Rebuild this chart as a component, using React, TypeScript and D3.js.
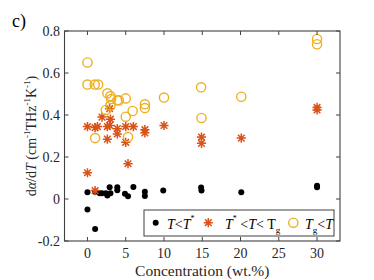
import React from "react";
import * as d3 from "d3";

const xTicks = [0, 5, 10, 15, 20, 25, 30];
const yTicks = [-0.2, 0, 0.2, 0.4, 0.6, 0.8];
const yTickLabels = ["-0.2", "0", "0.2", "0.4", "0.6", "0.8"];

const dotsX = [0, 0, 1.0, 1.0, 1.6, 1.9, 2.4, 2.6, 2.9, 3.0, 3.9, 3.9, 4.9, 5.3, 6.0, 7.5, 7.5, 9.9, 14.85, 14.9, 20.1, 30, 30];
const dotsY = [0.032, -0.05, -0.143, 0.035, 0.027, 0.027, 0.027, 0.017, 0.056, 0.027, 0.056, 0.042, 0.025, 0.013, 0.057, 0.035, 0.014, 0.04, 0.055, 0.04, 0.032, 0.063, 0.056];

const starsX = [0, 0, 1.0, 1.0, 1.3, 1.9, 2.6, 2.6, 2.9, 3.0, 2.9, 3.9, 3.9, 5.0, 5.0, 5.3, 6.0, 7.5, 7.5, 10, 14.9, 14.9, 20.1, 30, 30];
const starsY = [0.345, 0.125, 0.04, 0.34, 0.345, 0.39, 0.345, 0.285, 0.43, 0.38, 0.35, 0.335, 0.31, 0.345, 0.27, 0.168, 0.345, 0.33, 0.315, 0.35, 0.295, 0.265, 0.29, 0.436, 0.424];

const circlesX = [0, 0, 0.95, 1.4, 2.6, 3.0, 3.1, 3.9, 4.1, 5.0, 2.4, 3.0, 5.9, 5.0, 7.5, 7.5, 10, 14.85, 14.9, 20.1, 30, 30, 1.0, 5.3];
const circlesY = [0.65, 0.545, 0.545, 0.545, 0.503, 0.49, 0.476, 0.47, 0.47, 0.479, 0.424, 0.445, 0.419, 0.392, 0.451, 0.433, 0.483, 0.532, 0.386, 0.487, 0.762, 0.737, 0.29, 0.295];

const ORANGE = "#D95319";
const YELLOW = "#EDB120";
const AX = "#404040";
const FONT = "Liberation Serif, DejaVu Serif, serif";

function starPath(cx: number, cy: number, r: number) {
  const d = r * 0.72;
  return `M${cx - r},${cy}L${cx + r},${cy}M${cx},${cy - r}L${cx},${cy + r}M${cx - d},${cy - d}L${cx + d},${cy + d}M${cx - d},${cy + d}L${cx + d},${cy - d}`;
}

export default function App() {
  const x = d3.scaleLinear().domain([-3, 33]).range([64.5, 340]);
  const y = d3.scaleLinear().domain([-0.2, 0.8]).range([241, 31]);
  const [x0, x1] = x.range();
  const [yb, yt] = y.range();
  const tl = 4;
  const tf = { fontFamily: FONT };

  return (
    <svg width={374} height={280} style={{ position: "absolute", left: 0, top: 0, background: "#fff", fontFamily: FONT }}>
      <text x={12} y={27} fontSize={18} fill="#000" style={tf}>c)</text>
      {dotsX.map((v, i) => (
        <circle key={"d" + i} cx={x(v)} cy={y(dotsY[i])} r={3} fill="#000" />
      ))}
      {starsX.map((v, i) => (
        <path key={"s" + i} d={starPath(x(v), y(starsY[i]), 4.6)} stroke={ORANGE} strokeWidth={1.5} fill="none" />
      ))}
      {circlesX.map((v, i) => (
        <circle key={"c" + i} cx={x(v)} cy={y(circlesY[i])} r={4.6} fill="none" stroke={YELLOW} strokeWidth={1.4} />
      ))}
      <rect x={x0} y={yt} width={x1 - x0} height={yb - yt} fill="none" stroke={AX} strokeWidth={1.1} />
      {xTicks.map((t) => (
        <g key={"xt" + t}>
          <line x1={x(t)} x2={x(t)} y1={yb} y2={yb - tl} stroke={AX} />
          <line x1={x(t)} x2={x(t)} y1={yt} y2={yt + tl} stroke={AX} />
          <text x={x(t)} y={258} textAnchor="middle" fontSize={14} fill="#262626" style={tf}>{t}</text>
        </g>
      ))}
      {yTicks.map((t, i) => (
        <g key={"yt" + t}>
          <line x1={x0} x2={x0 + tl} y1={y(t)} y2={y(t)} stroke={AX} />
          <line x1={x1} x2={x1 - tl} y1={y(t)} y2={y(t)} stroke={AX} />
          <text x={60} y={y(t) + 4.5} textAnchor="end" fontSize={14} fill="#262626" style={tf}>{yTickLabels[i]}</text>
        </g>
      ))}
      <text x={(x0 + x1) / 2} y={276} textAnchor="middle" fontSize={15.5} fill="#262626" style={tf}>Concentration (wt.%)</text>
      <text transform={`translate(36,${(yt + yb) / 2}) rotate(-90)`} textAnchor="middle" fontSize={14} fill="#262626" style={tf}>
        <tspan>d</tspan><tspan fontStyle="italic">α</tspan><tspan>/d</tspan><tspan fontStyle="italic">T</tspan>
        <tspan> (cm</tspan><tspan fontSize={9} dy={-6}>-1</tspan><tspan dy={6}>THz</tspan><tspan fontSize={9} dy={-6}>-1</tspan><tspan dy={6}>K</tspan><tspan fontSize={9} dy={-6}>-1</tspan><tspan dy={6}>)</tspan>
      </text>
      <rect x={144} y={210} width={190} height={26} fill="#fff" stroke={AX} strokeWidth={1} />
      <circle cx={155.7} cy={222.7} r={3} fill="#000" />
      <text x={167} y={229} fontSize={14} fill="#000" style={tf}>
        <tspan fontStyle="italic">T</tspan><tspan>&lt;</tspan><tspan fontStyle="italic">T</tspan><tspan fontSize={8} dy={-8}>*</tspan>
      </text>
      <path d={starPath(208.3, 222.7, 4.6)} stroke={ORANGE} strokeWidth={1.5} fill="none" />
      <text x={225} y={229} fontSize={14} fill="#000" style={tf}>
        <tspan fontStyle="italic">T</tspan><tspan fontSize={8} dy={-8}>*</tspan><tspan dy={8}> &lt;</tspan><tspan fontStyle="italic">T</tspan><tspan>&lt; T</tspan><tspan fontSize={9} dy={4}>g</tspan>
      </text>
      <circle cx={293.3} cy={222.7} r={4.6} fill="none" stroke={YELLOW} strokeWidth={1.4} />
      <text x={305} y={229} fontSize={14} fill="#000" style={tf}>
        <tspan fontStyle="italic">T</tspan><tspan fontSize={9} dy={4}>g</tspan><tspan dy={-4}>&lt;</tspan><tspan fontStyle="italic">T</tspan>
      </text>
    </svg>
  );
}
